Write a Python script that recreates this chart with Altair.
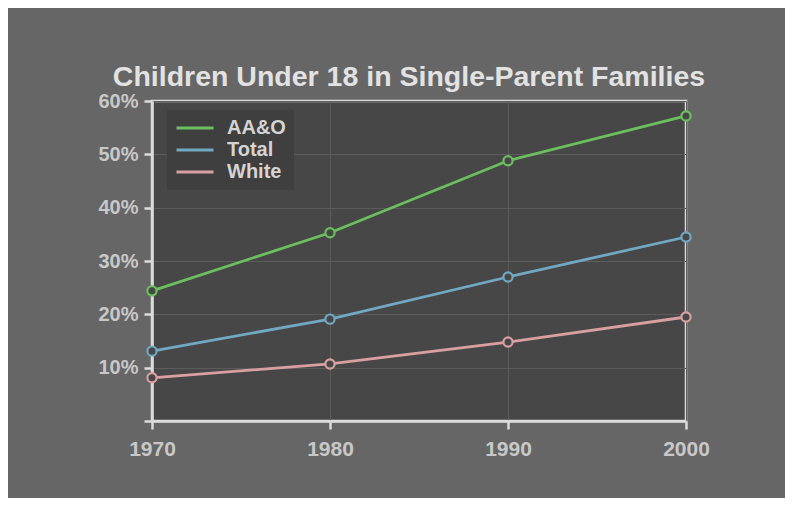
import altair as alt
import pandas as pd

years = [1970, 1980, 1990, 2000]
series_names = ["AA&O", "Total", "White"]
aao = [24.4, 35.3, 48.8, 57.2]
total = [13.1, 19.1, 27.0, 34.5]
white = [8.1, 10.7, 14.8, 19.5]
colors = ["#6cbf5f", "#72a9c2", "#d8a0a2"]
y_ticks = [0, 10, 20, 30, 40, 50, 60]

rows = []
for name, vals in zip(series_names, [aao, total, white]):
    for yr, v in zip(years, vals):
        rows.append({"year": yr, "value": v, "group": name})
df = pd.DataFrame(rows)

FONT = "Liberation Sans"
PLOT_BG = "#474747"

x = alt.X("year:Q", scale=alt.Scale(domain=[1970, 2000], nice=False),
          axis=alt.Axis(values=years, format="d", title=None,
                        labelFontSize=21, labelPadding=9, labelFlush=False))
y = alt.Y("value:Q", scale=alt.Scale(domain=[0, 60], nice=False),
          axis=alt.Axis(values=y_ticks, title=None, labelFontSize=20,
                        labelPadding=6, labelFlush=False,
                        labelExpr="datum.value == 0 ? '' : datum.value + '%'"))

base = alt.Chart(df)
lines = base.mark_line(strokeWidth=2.8).encode(
    x=x, y=y,
    color=alt.Color("group:N",
                    scale=alt.Scale(domain=series_names, range=colors),
                    legend=alt.Legend(title=None, orient="none", legendX=15, legendY=9,
                                      fillColor="#3f3f3f", padding=8,
                                      symbolType="stroke", symbolSize=1369,
                                      symbolStrokeWidth=3, labelFont=FONT,
                                      labelFontSize=20, labelFontWeight="bold",
                                      labelColor="#d4d4d4", labelOffset=12,
                                      clipHeight=20, rowPadding=2)),
)
points = base.mark_point(shape="circle", size=85, strokeWidth=2.2, fill=PLOT_BG,
                         fillOpacity=1, opacity=1).encode(
    x=x, y=y,
    stroke=alt.Stroke("group:N",
                      scale=alt.Scale(domain=series_names, range=colors),
                      legend=None),
)

chart = (lines + points).properties(
    width=534, height=320,
    autosize=alt.AutoSizeParams(type="none"),
    padding={"left": 144, "top": 93, "right": 99, "bottom": 77},
    background="#666666",
    title=alt.TitleParams("Children Under 18 in Single-Parent Families",
                          font=FONT, fontSize=28.5, fontWeight="bold",
                          color="#e2e2e2", anchor="middle", offset=0, dx=-10),
).configure_view(
    fill=PLOT_BG, stroke="#dcdcdc", strokeWidth=2.5
).configure_axis(
    domainColor="#dcdcdc", domainWidth=2.5, tickColor="#dcdcdc", tickWidth=2.5,
    tickSize=8, labelFont=FONT, labelFontWeight="bold",
    labelColor="#c8c8c8", gridColor="#5c5c5c", gridWidth=1,
)

chart.save("out.html", embed_options={"renderer": "svg", "actions": False})
